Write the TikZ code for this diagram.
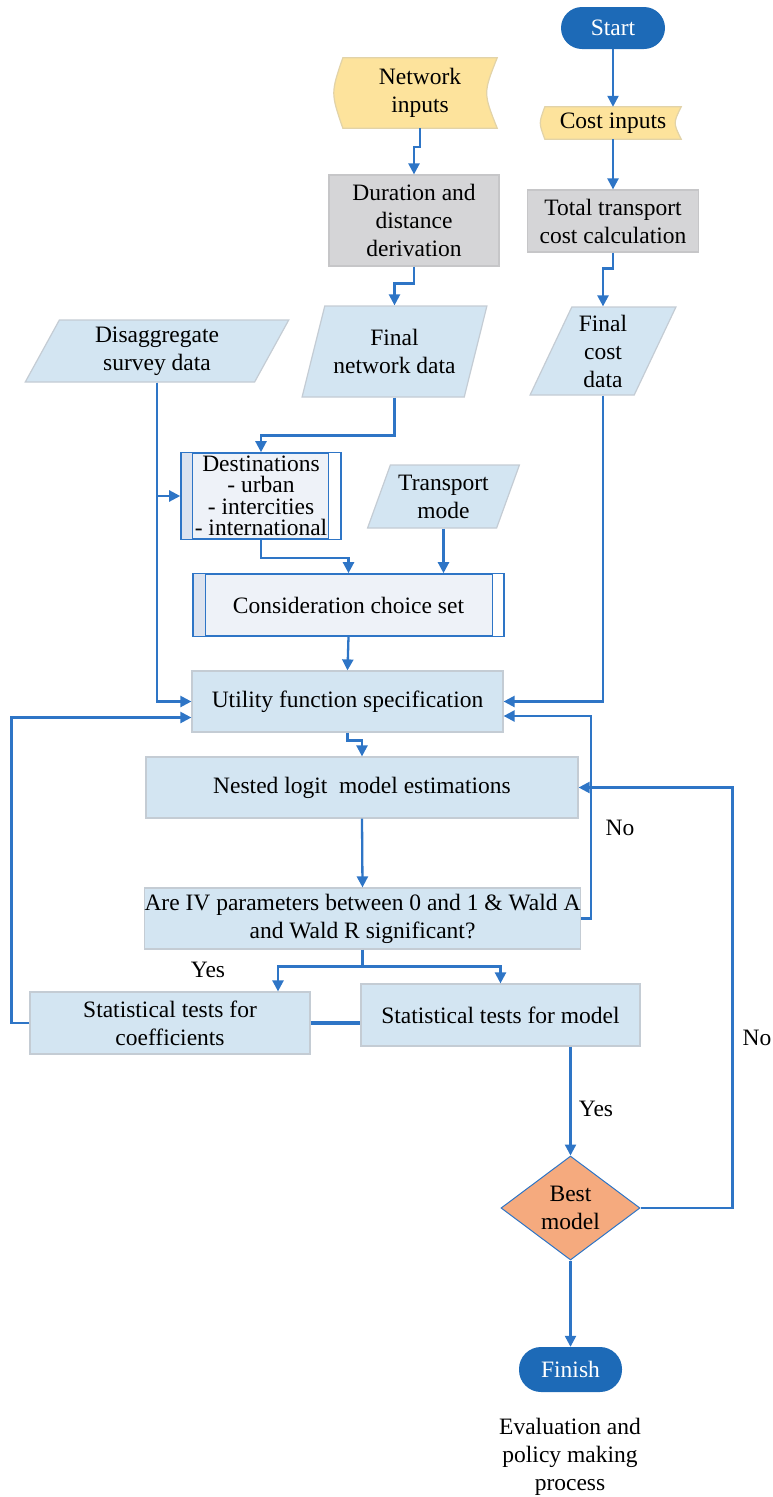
\documentclass[tikz,border=0pt]{standalone}
\usepackage{fontspec}
\setmainfont{Liberation Serif}
\usetikzlibrary{arrows.meta,shapes.geometric,backgrounds}
\definecolor{flowblue}{HTML}{2E75C6}
\definecolor{boxfill}{HTML}{D3E5F2}
\definecolor{boxedge}{HTML}{C4CCD4}
\definecolor{grayfill}{HTML}{D5D5D7}
\definecolor{grayedge}{HTML}{C6C6C8}
\definecolor{tapefill}{HTML}{FDE39C}
\definecolor{tapeedge}{HTML}{E2D3A8}
\definecolor{predfill}{HTML}{EEF2F8}
\definecolor{stripfill}{HTML}{DCE3EF}
\definecolor{termblue}{HTML}{1D6AB7}
\definecolor{bestfill}{HTML}{F5AA7E}

\begin{document}
\begin{tikzpicture}[x=1pt, y=-1pt, font=\fontsize{23.5}{28}\selectfont,
  flow/.style={draw=flowblue, line width=2.3pt, -{Triangle[length=11pt,width=11pt]}},
  line/.style={draw=flowblue, line width=2.3pt},
  proc/.style={draw=boxedge, fill=boxfill, line width=1.2pt, inner sep=0pt, align=center},
  grayproc/.style={proc, draw=grayedge, fill=grayfill},
  io/.style={trapezium, trapezium left angle=66, trapezium right angle=114, trapezium stretches=true, draw=boxedge, fill=boxfill, line width=1.2pt, inner sep=0pt, align=center},
  predef/.style={draw=flowblue, fill=predfill, line width=1.6pt, inner sep=0pt, align=center},
  strip/.style={draw=flowblue, fill=stripfill, line width=1.2pt},
  stored/.style={inner sep=0pt, align=center},
  tape/.style={fill=tapefill, draw=tapeedge, line width=1.2pt},
  term/.style={fill=termblue, text=white, rounded corners=21pt, inner sep=0pt, align=center},
  decision/.style={diamond, aspect=1.34, draw=flowblue, fill=bestfill, line width=1pt, inner sep=0pt, align=center}]
\useasboundingbox (0,0) rectangle (773,1497);

\node[term, minimum width=104pt, minimum height=42pt] (start) at (613,28) {Start};
\node[stored, minimum width=154pt, minimum height=70pt] (netin) at (420,93) {Network\\inputs};
\node[stored, minimum width=136pt, minimum height=32pt] (costin) at (613,123) {Cost inputs};
\node[grayproc, minimum width=170pt, minimum height=91pt] (durat) at (414,220.5) {Duration and\\distance\\derivation};
\node[grayproc, minimum width=171pt, minimum height=62pt] (total) at (613,221) {Total transport\\cost calculation};
\node[io, minimum width=264pt, minimum height=62pt] (disagg) at (157,351) {Disaggregate\\survey data};
\node[io, minimum width=185pt, minimum height=91pt] (finnet) at (394.5,351.5) {Final\\network data};
\node[io, minimum width=146pt, minimum height=88pt] (fincost) at (603,351) {Final\\cost\\data};
\node[predef, font=\fontsize{23.5}{21.5}\selectfont, minimum width=160pt, minimum height=86pt] (dest) at (261,496) {Destinations\\- urban\\- intercities\\- international};
\node[io, minimum width=152pt, minimum height=63pt] (tmode) at (443.5,496.5) {Transport\\mode};
\node[predef, minimum width=311pt, minimum height=62pt] (consid) at (348.5,605) {Consideration choice set};
\node[proc, minimum width=311pt, minimum height=61pt] (util) at (347.5,701.5) {Utility function specification};
\node[proc, minimum width=432pt, minimum height=61pt] (nested) at (362,787.5) {Nested logit\ \ model estimations};
\node[proc, minimum width=433pt, minimum height=61pt] (ivtest) at (362.5,918.5) {Are IV parameters between 0 and 1 \& Wald A\\and Wald R significant?};
\node[proc, minimum width=280pt, minimum height=62pt] (statcoef) at (170,1023) {Statistical tests for\\coefficients};
\node[proc, minimum width=279pt, minimum height=62pt] (statmod) at (500.5,1015) {Statistical tests for model};
\node[decision, minimum width=139pt, minimum height=104pt] (best) at (570.5,1208) {Best\\model};
\node[term, rounded corners=22pt, minimum width=103pt, minimum height=45pt] (finish) at (570.5,1369.5) {Finish};
\node[anchor=north, align=center, inner sep=0pt] (evalnote) at (570,1418) {Evaluation and\\policy making\\process};

\node (nolab1) at (620,828) {No};
\node (yeslab1) at (208,970) {Yes};
\node (yeslab2) at (596,1109) {Yes};
\node (nolab2) at (757,1038) {No};

\begin{scope}[on background layer]
\filldraw[tape] (netin.north west) -- (netin.north east) .. controls ([xshift=-14pt]netin.east) .. (netin.south east) -- (netin.south west) .. controls ([xshift=-12pt]netin.west) .. (netin.north west) -- cycle;
\filldraw[tape] (costin.north west) -- (costin.north east) .. controls ([xshift=-8pt]costin.east) .. (costin.south east) -- (costin.south west) .. controls ([xshift=-6pt]costin.west) .. (costin.north west) -- cycle;
\end{scope}

\filldraw[strip] ([xshift=0.8pt]dest.north west) rectangle ([xshift=12pt]dest.south west);
\draw[strip, fill=white] ([xshift=-0.8pt]dest.north east) rectangle ([xshift=-13pt]dest.south east);
\filldraw[strip] ([xshift=0.8pt]consid.north west) rectangle ([xshift=13pt]consid.south west);
\draw[strip, fill=white] ([xshift=-0.8pt]consid.north east) rectangle ([xshift=-12pt]consid.south east);

\draw[flow] (start.south) -- (costin.north);
\draw[flow] (costin.south) -- (total.north);
\draw[flow] (netin.south) -- ++(0,19) -| (durat.north);
\draw[flow] (durat.south) -- ++(0,17) -| (finnet.north -| finnet);
\draw[flow] (total.south) -- ++(0,16) -| (fincost.north -| fincost);
\draw[flow] (finnet.south -| finnet) -- ++(0,38) -| (dest.north);
\draw[flow] (disagg.south -| disagg) |- (util.west);
\draw[flow] (disagg.south -| disagg) |- (dest.west);
\draw[flow] (dest.south) -- ++(0,18) -| (consid.north);
\draw[flow] (tmode.south -| tmode) -- (tmode |- consid.north);
\draw[flow] (consid.south) -- (util.north);
\draw[flow] (fincost.south -| fincost) |- (util.east);
\draw[flow] (util.south) -- ++(0,8) -| (nested.north);
\draw[flow] (nested.south) -- (ivtest.north);
\draw[flow] (ivtest.east) -- ++(10,0) |- ([yshift=-14.5pt]util.east);
\draw[line] (ivtest.south) -- ++(0,17) coordinate (split);
\draw[flow] (split) -| ([xshift=108pt]statcoef.north);
\draw[flow] (split) -| (statmod.north);
\draw[line, line width=3.4pt] (statcoef.east) -- (statcoef.east -| statmod.west);
\draw[flow] (statcoef.west) -- ++(-18,0) |- ([yshift=-16pt]util.west);
\draw[flow] (best.north |- statmod.south) -- (best.north);
\draw[flow] (best.east) -- ++(92,0) |- (nested.east);
\draw[flow] (best.south) -- (finish.north);
\end{tikzpicture}
\end{document}
